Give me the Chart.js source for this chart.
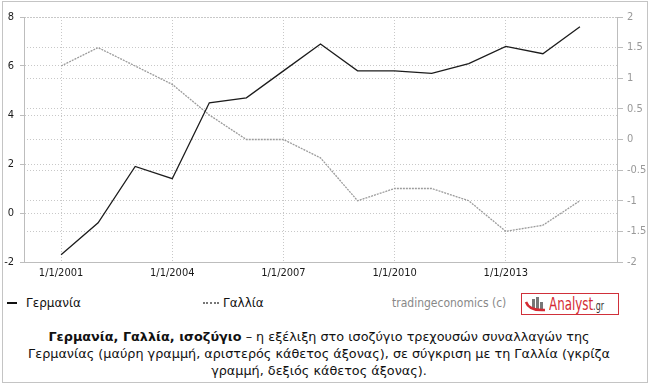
<!DOCTYPE html>
<html>
<head>
<meta charset="utf-8">
<script src="https://cdn.jsdelivr.net/npm/chart.js@4/dist/chart.umd.min.js"></script>
<style>
  html, body { margin: 0; padding: 0; background: #fff; }
  #wrap { position: relative; width: 650px; height: 388px; background: #fff; overflow: hidden;
          font-family: "DejaVu Sans", sans-serif; }
  #frame { position: absolute; left: 2px; top: 1px; width: 644px; height: 380px; border: 1px solid #c4c4c4; }
  #c { position: absolute; left: 0; top: 0; }
  .leg { position: absolute; top: 295px; font-size: 12px; line-height: 16px; color: #111; white-space: nowrap; }
  .sw1 { display: inline-block; width: 10px; height: 0; border-top: 2px solid #111; vertical-align: middle; margin-right: 9px; position: relative; top: -1px; }
  .sw2 { display: inline-block; width: 16px; height: 0; border-top: 2px dotted #777; vertical-align: middle; margin-right: 4px; position: relative; top: -1px; }
  #src { position: absolute; left: 392px; top: 295px; font-family: "DejaVu Sans Condensed", "DejaVu Sans", sans-serif; font-size: 12px; line-height: 16px; color: #888; white-space: nowrap; }
  #logo { position: absolute; left: 521px; top: 293px; width: 96px; height: 20px; border: 1px solid #d0303a; background: #fff; }
  #logo .t { position: absolute; left: 27px; top: -1px; font-family: "DejaVu Sans", sans-serif; font-size: 18px; line-height: 22px; color: #d42a33; transform: scaleX(0.66); transform-origin: 0 50%; white-space: nowrap; }
  #logo .g { font-size: 12px; color: #333; }
  #cap { position: absolute; left: 10px; width: 618px; top: 328px; text-align: center; font-size: 12.8px; line-height: 17px; color: #111; white-space: nowrap; }
</style>
</head>
<body>
<div id="wrap">
  <div id="frame"></div>
  <canvas id="c" width="650" height="285"></canvas>
  <div class="leg" style="left:7px;"><span class="sw1"></span>Γερμανία</div>
  <div class="leg" style="left:203px;"><span class="sw2"></span>Γαλλία</div>
  <div id="src">tradingeconomics (c)</div>
  <div id="logo">
    <svg width="26" height="20" style="position:absolute;left:1px;top:0;">
      <rect x="9" y="5" width="3" height="10" fill="#777"/>
      <rect x="13" y="3" width="3" height="12" fill="#777"/>
      <rect x="17" y="8" width="3" height="7" fill="#777"/>
      <path d="M3 8 Q6 17 22 16" stroke="#d42a33" stroke-width="2.5" fill="none"/>
    </svg>
    <span class="t">Analyst<span class="g">.gr</span></span>
  </div>
  <div id="cap"><b>Γερμανία, Γαλλία, ισοζύγιο</b> – η εξέλιξη στο ισοζύγιο τρεχουσών συναλλαγών της<br>Γερμανίας (μαύρη γραμμή, αριστερός κάθετος άξονας), σε σύγκριση με τη Γαλλία (γκρίζα<br>γραμμή, δεξιός κάθετος άξονας).</div>
</div>
<script>
const years = [2001, 2002, 2003, 2004, 2005, 2006, 2007, 2008, 2009, 2010, 2011, 2012, 2013, 2014, 2015];
const germany = [-1.7, -0.4, 1.9, 1.4, 4.5, 4.7, 5.8, 6.9, 5.8, 5.8, 5.7, 6.1, 6.8, 6.5, 7.6];
const france = [1.2, 1.5, 1.2, 0.9, 0.4, 0.0, 0.0, -0.3, -1.0, -0.8, -0.8, -1.0, -1.5, -1.4, -1.0];
const xTickYears = [2001, 2004, 2007, 2010, 2013];
const seriesNames = ["Γερμανία", "Γαλλία"];

const FONT = "'DejaVu Sans Condensed', 'DejaVu Sans', sans-serif";
const GRID = '#c8c8c8';
const AXIS = '#bdbdbd';

new Chart(document.getElementById('c'), {
  type: 'line',
  data: {
    datasets: [
      { label: seriesNames[0], data: years.map((y, i) => ({ x: y, y: germany[i] })), yAxisID: 'yL',
        borderColor: '#1c1c1c', borderWidth: 1.3, pointRadius: 0, tension: 0, fill: false },
      { label: seriesNames[1], data: years.map((y, i) => ({ x: y, y: france[i] })), yAxisID: 'yR',
        borderColor: '#9c9c9c', borderWidth: 1.3, borderDash: [2, 1], pointRadius: 0, tension: 0, fill: false }
    ]
  },
  options: {
    responsive: false,
    animation: false,
    devicePixelRatio: 1,
    layout: { padding: { top: 17, left: 0, right: 0, bottom: 0 } },
    plugins: { legend: { display: false }, tooltip: { enabled: false } },
    scales: {
      x: {
        type: 'linear', min: 2000, max: 2016,
        afterBuildTicks: s => { s.ticks = xTickYears.map(v => ({ value: v })); },
        afterFit: s => { s.height = 23; },
        grid: { color: GRID, lineWidth: 1, drawTicks: false },
        border: { display: true, color: AXIS, width: 1, dash: [1, 2] },
        ticks: { padding: 5, maxRotation: 0, autoSkip: false, color: '#1a1a1a',
                 font: { family: FONT, size: 11 }, callback: v => '1/1/' + v }
      },
      yL: {
        position: 'left', min: -2, max: 8,
        afterFit: s => { s.width = 24; },
        grid: { color: GRID, lineWidth: 1, drawTicks: true, tickLength: 4, tickColor: AXIS },
        border: { display: true, color: AXIS, width: 1, dash: [1, 2] },
        ticks: { stepSize: 2, padding: 6, color: '#1a1a1a', font: { family: FONT, size: 11 },
                 callback: v => String(v) }
      },
      yR: {
        position: 'right', min: -2, max: 2,
        afterFit: s => { s.width = 33; },
        grid: { color: GRID, lineWidth: 1, drawTicks: true, tickLength: 6, tickColor: AXIS, drawOnChartArea: true },
        border: { display: true, color: AXIS, width: 1, dash: [1, 2] },
        ticks: { stepSize: 0.5, padding: 4, color: '#999', font: { family: FONT, size: 11 },
                 callback: v => String(v) }
      }
    }
  }
});
</script>
</body>
</html>
